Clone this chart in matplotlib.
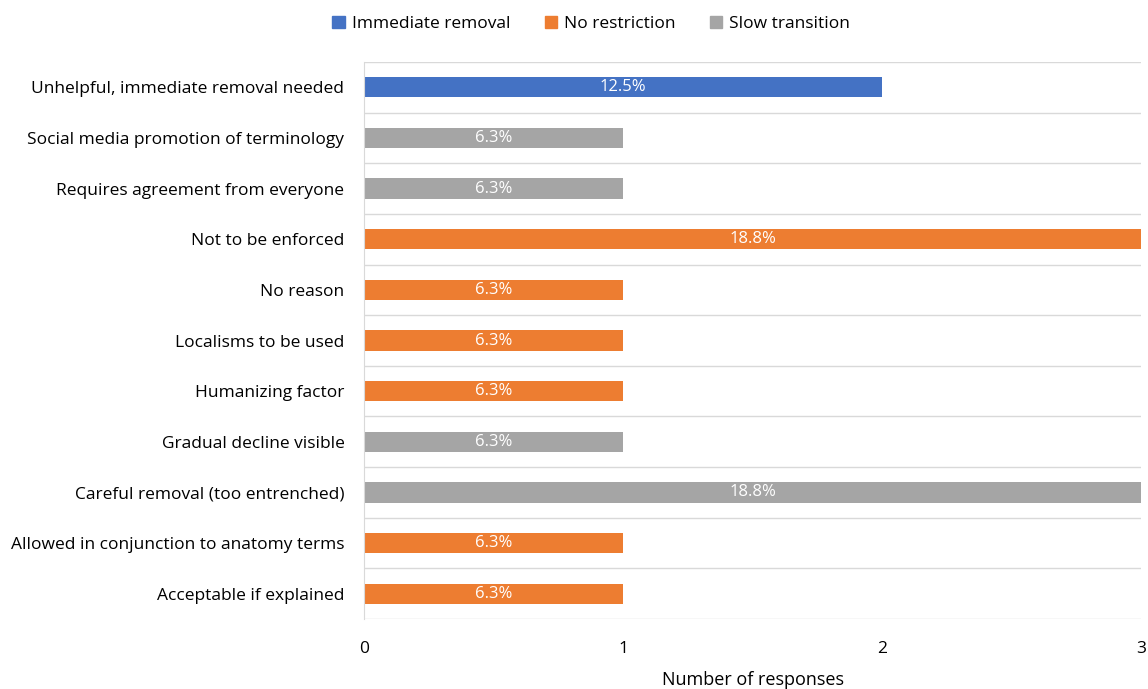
import math
import matplotlib.pyplot as plt
from matplotlib.patches import Patch

plt.rcParams['font.family'] = ['Open Sans', 'DejaVu Sans']

reasons = [
    "Unhelpful, immediate removal needed",
    "Social media promotion of terminology",
    "Requires agreement from everyone",
    "Not to be enforced",
    "No reason",
    "Localisms to be used",
    "Humanizing factor",
    "Gradual decline visible",
    "Careful removal (too entrenched)",
    "Allowed in conjunction to anatomy terms",
    "Acceptable if explained",
]
responses = [2, 1, 1, 3, 1, 1, 1, 1, 3, 1, 1]
groups = ["Immediate removal", "Slow transition", "Slow transition", "No restriction",
          "No restriction", "No restriction", "No restriction", "Slow transition",
          "Slow transition", "No restriction", "No restriction"]
total = 16

colors = {"Immediate removal": "#4472C4", "No restriction": "#ED7D31", "Slow transition": "#A5A5A5"}

fig = plt.figure(figsize=(11.48, 6.89), dpi=100)
ax = fig.add_axes([0.317, 0.1016, 0.677, 0.8084])

ypos = list(range(len(reasons)))
bars = ax.barh(ypos, responses, height=0.4, color=[colors[g] for g in groups])
for b, v in zip(bars, responses):
    # round half up, e.g. 6.25 -> 6.3
    pct = math.floor(v / total * 1000 + 0.5) / 10
    ax.text(v / 2, b.get_y() + b.get_height() / 2, f"{pct:.1f}%",
            ha='center', va='center', color='white', fontsize=12)

ax.set_ylim(len(reasons) - 0.5, -0.5)
ax.set_xlim(0, 3)
ax.set_yticks(ypos)
ax.set_yticklabels(reasons, fontsize=12.5)
ax.set_xticks([0, 1, 2, 3])
ax.tick_params(axis='both', length=0, labelsize=12.5)
ax.tick_params(axis='x', pad=16)
ax.tick_params(axis='y', pad=14)

for k in range(len(reasons) + 1):
    ax.axhline(k - 0.5, color='#D9D9D9', lw=1, zorder=0)
for s in ['top', 'right', 'bottom']:
    ax.spines[s].set_visible(False)
ax.spines['left'].set_color('#D9D9D9')

ax.set_xlabel("Number of responses", fontsize=13, labelpad=10)

handles = [Patch(color=colors[g]) for g in ["Immediate removal", "No restriction", "Slow transition"]]
fig.legend(handles, ["Immediate removal", "No restriction", "Slow transition"],
           loc='upper center', bbox_to_anchor=(0.515, 1.0), ncol=3, frameon=False,
           fontsize=12.5, handlelength=0.7, handleheight=0.7, columnspacing=2.0, handletextpad=0.4)

fig.savefig("out.png", dpi=100)
